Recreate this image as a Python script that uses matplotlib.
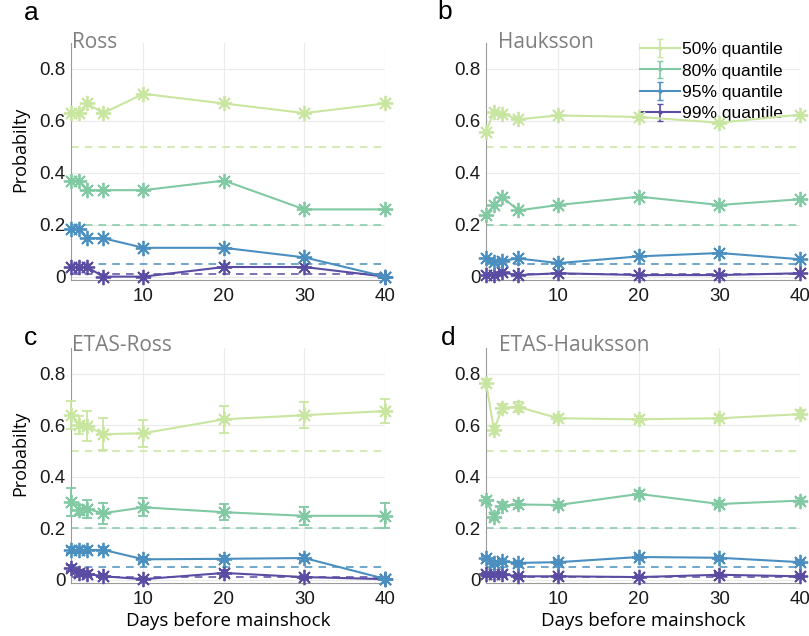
import matplotlib
matplotlib.use("Agg")
import matplotlib.pyplot as plt
import numpy as np

# ---------------- data ----------------
days = [1, 2, 3, 5, 10, 20, 30, 40]
quantile_labels = ["50% quantile", "80% quantile", "95% quantile", "99% quantile"]
reference_levels = [0.5, 0.2, 0.05, 0.01]
panel_titles = ["Ross", "Hauksson", "ETAS-Ross", "ETAS-Hauksson"]
panel_letters = ["a", "b", "c", "d"]

ross_50 = [0.630, 0.630, 0.667, 0.630, 0.704, 0.667, 0.630, 0.667]
ross_80 = [0.370, 0.370, 0.333, 0.333, 0.333, 0.370, 0.259, 0.259]
ross_95 = [0.185, 0.185, 0.148, 0.148, 0.111, 0.111, 0.074, 0.000]
ross_99 = [0.037, 0.037, 0.037, 0.000, 0.000, 0.037, 0.037, 0.000]

hauk_50 = [0.559, 0.634, 0.628, 0.606, 0.621, 0.615, 0.593, 0.624]
hauk_80 = [0.239, 0.274, 0.308, 0.255, 0.276, 0.308, 0.276, 0.298]
hauk_95 = [0.071, 0.058, 0.061, 0.070, 0.052, 0.078, 0.091, 0.067]
hauk_99 = [0.005, 0.005, 0.016, 0.006, 0.013, 0.006, 0.006, 0.013]

etasr_50 = [0.640, 0.601, 0.597, 0.565, 0.569, 0.623, 0.639, 0.655]
etasr_80 = [0.303, 0.271, 0.275, 0.258, 0.281, 0.262, 0.248, 0.248]
etasr_95 = [0.114, 0.114, 0.114, 0.116, 0.079, 0.081, 0.084, 0.003]
etasr_99 = [0.045, 0.026, 0.023, 0.013, 0.002, 0.026, 0.010, 0.002]
etasr_50_err = [0.055, 0.035, 0.057, 0.063, 0.052, 0.052, 0.050, 0.046]
etasr_80_err = [0.055, 0.020, 0.035, 0.040, 0.035, 0.030, 0.035, 0.048]
etasr_95_err = [0.012, 0.012, 0.012, 0.012, 0.010, 0.010, 0.012, 0.004]
etasr_99_err = [0.012, 0.010, 0.010, 0.008, 0.004, 0.010, 0.006, 0.003]

etash_50 = [0.765, 0.581, 0.668, 0.671, 0.627, 0.623, 0.627, 0.643]
etash_80 = [0.311, 0.245, 0.288, 0.292, 0.290, 0.333, 0.294, 0.307]
etash_95 = [0.085, 0.066, 0.071, 0.065, 0.068, 0.088, 0.085, 0.068]
etash_99 = [0.021, 0.021, 0.021, 0.013, 0.013, 0.010, 0.019, 0.013]
etash_50_err = [0.015, 0.015, 0.015, 0.020, 0.012, 0.012, 0.012, 0.015]
etash_80_err = [0.012, 0.012, 0.012, 0.012, 0.012, 0.012, 0.012, 0.012]
etash_95_err = [0.008, 0.008, 0.008, 0.008, 0.008, 0.008, 0.008, 0.008]
etash_99_err = [0.005, 0.005, 0.005, 0.005, 0.005, 0.005, 0.005, 0.005]

panels_values = [
    [ross_50, ross_80, ross_95, ross_99],
    [hauk_50, hauk_80, hauk_95, hauk_99],
    [etasr_50, etasr_80, etasr_95, etasr_99],
    [etash_50, etash_80, etash_95, etash_99],
]
panels_errors = [
    None,
    None,
    [etasr_50_err, etasr_80_err, etasr_95_err, etasr_99_err],
    [etash_50_err, etash_80_err, etash_95_err, etash_99_err],
]

colors = ["#c8e6a0", "#80c9a3", "#4a8fc0", "#5b4ca3"]

# ---------------- layout ----------------
W, H = 809, 636
fig = plt.figure(figsize=(W / 100, H / 100), dpi=100)

# axes rectangles in pixel coordinates (left, top, right, bottom)
rects_px = [
    (71, 43, 385, 280),
    (486, 43, 800, 280),
    (71, 348, 385, 583),
    (486, 348, 800, 583),
]
title_pos_px = [(72, 48), (498, 48), (72, 351), (499, 351)]
letter_pos_px = [(24, 20), (437, 19), (24, 345), (441, 345)]

asterisk = (8, 2, 0)
tick_font = "Liberation Sans"
label_font = "Open Sans"

for i in range(4):
    l, t, r, b = rects_px[i]
    ax = fig.add_axes([l / W, 1 - b / H, (r - l) / W, (b - t) / H])
    ax.set_xlim(1, 40)
    ax.set_ylim(-0.013, 0.9)
    ax.set_xticks([10, 20, 30, 40])
    ax.set_yticks([0, 0.2, 0.4, 0.6, 0.8])
    ax.set_yticklabels(["0", "0.2", "0.4", "0.6", "0.8"])
    ax.grid(True, color="#ebebeb", linewidth=0.8)
    ax.set_axisbelow(True)
    for s in ["top", "right"]:
        ax.spines[s].set_visible(False)
    for s in ["left", "bottom"]:
        ax.spines[s].set_color("#9a9a9a")
        ax.spines[s].set_linewidth(0.8)
    ax.tick_params(length=0, labelsize=13.5, colors="#1a1a1a")
    ax.tick_params(axis="x", pad=6)
    ax.tick_params(axis="y", pad=4)
    for lab in ax.get_xticklabels() + ax.get_yticklabels():
        lab.set_fontfamily(tick_font)

    vals = panels_values[i]
    errs = panels_errors[i]
    for k in range(4):
        ax.plot([1, 40], [reference_levels[k]] * 2, linestyle=(0, (5, 4)),
                color=colors[k], linewidth=1.1, zorder=2)
    for k in range(3, -1, -1):
        if errs is not None:
            ax.errorbar(days, vals[k], yerr=errs[k], color=colors[k],
                        linewidth=1.5, marker=asterisk, markersize=11,
                        markeredgewidth=1.3, capsize=3.5, elinewidth=1.3,
                        capthick=1.3, clip_on=False, zorder=3 + (3 - k))
        else:
            ax.plot(days, vals[k], color=colors[k], linewidth=1.5,
                    marker=asterisk, markersize=11, markeredgewidth=1.3,
                    clip_on=False, zorder=3 + (3 - k))

    if i in (0, 2):
        ax.set_ylabel("Probabilty", fontsize=13, fontfamily=label_font)
        ax.yaxis.set_label_coords(-42 / (r - l), 0.55)
    if i in (2, 3):
        ax.set_xlabel("Days before mainshock", fontsize=13.5,
                      fontfamily=label_font, labelpad=3)

    if i == 1:
        handles = []
        for k in range(4):
            h = ax.errorbar([np.nan], [np.nan], yerr=[0.1], color=colors[k],
                            marker=".", markersize=4, linewidth=1.5,
                            elinewidth=1.2, capsize=2.5, label=quantile_labels[k])
            handles.append(h)
        ax.legend(handles=handles, loc="upper left",
                  bbox_to_anchor=(640 / W, 1 - 42 / H),
                  bbox_transform=fig.transFigure, frameon=False,
                  handlelength=2.3, handletextpad=0.1,
                  labelspacing=0.36, borderpad=0, borderaxespad=0,
                  prop={"family": tick_font, "size": 12.5})

    tx, ty = title_pos_px[i]
    fig.text(tx / W, 1 - ty / H, panel_titles[i], color="#7f7f7f",
             fontsize=15, fontfamily=label_font, ha="left", va="baseline")
    lx, ly = letter_pos_px[i]
    fig.text(lx / W, 1 - ly / H, panel_letters[i], color="black",
             fontsize=19, fontfamily=tick_font,
             ha="left", va="baseline")

fig.savefig("out.png", dpi=100)
